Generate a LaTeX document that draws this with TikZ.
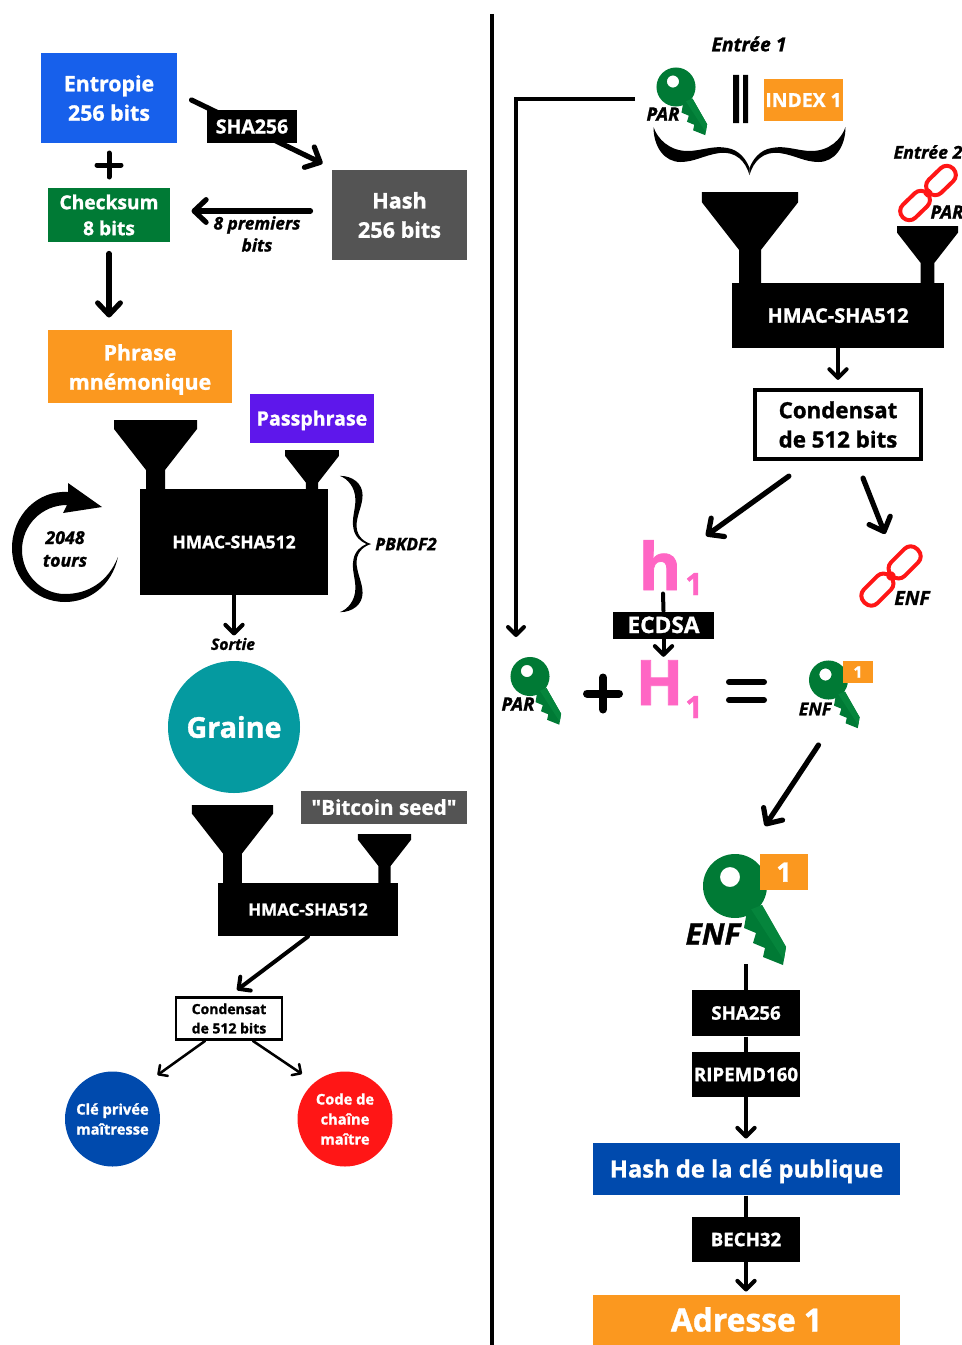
\documentclass[tikz,border=0pt]{standalone}
\usepackage{fontspec}
\setmainfont{Open Sans}[BoldFeatures={FakeBold=1.2},BoldItalicFeatures={FakeBold=1.2}]
\newfontfamily\rawfont{Open Sans}[BoldFeatures={FakeBold=1.2}]
\usetikzlibrary{arrows.meta}

\definecolor{entropyblue}{HTML}{1760EB}
\definecolor{keygreen}{HTML}{007A35}
\definecolor{keylight}{HTML}{05853C}
\definecolor{greybox}{HTML}{545454}
\definecolor{orangebox}{HTML}{FB981F}
\definecolor{purplebox}{HTML}{5E17EB}
\definecolor{seedteal}{HTML}{059AA0}
\definecolor{deepblue}{HTML}{004AAD}
\definecolor{chainred}{HTML}{FF1616}
\definecolor{hashpink}{HTML}{FF66C4}

\newcommand{\fsz}[2]{\fontsize{#1}{#2}\selectfont}

\tikzset{every picture/.style={line width=0.75pt}}
\tikzset{
  boxed/.style args={#1 by #2}{minimum width=#1*0.75pt,minimum height=#2*0.75pt,inner sep=0pt},
  whitebox/.style={text=white,font=\bfseries,align=center},
  oneline/.style={text height=#1pt,text depth=0pt},
  note/.style={font=\bfseries\itshape,align=center,inner sep=0pt},
  bigarrow/.style={line width=3.9pt,line cap=round,-{Straight Barb[round,length=9pt,width=17pt]}},
  midarrow/.style={line width=3pt,line cap=round,-{Straight Barb[round,length=6.5pt,width=13pt]}},
  thinarrow/.style={line width=1.9pt,line cap=round,-{Straight Barb[round,length=5pt,width=10pt]}},
  pics/funnel/.style={code={
    \fill[yscale=-1] (-41.5,0) -- (41.5,0) -- (41.5,9) -- (9.5,50) -- (9.5,100) -- (-9.5,100) -- (-9.5,50) -- (-41.5,9) -- cycle;
  }},
  pics/bitkey/.style={code={
    \begin{scope}[yscale=-1]
    \fill[keygreen,even odd rule] (0,0) circle (32) (-5,-9) circle (10);
    \fill[keygreen] (27,19) -- (51,61) -- (48,79) -- (28,71) -- (30,62) -- (18,57) -- (21,47) -- (9,42) -- (12,25) -- cycle;
    \begin{scope}
      \clip (27,19) -- (51,61) -- (48,79) -- (28,71) -- (30,62) -- (18,57) -- (21,47) -- (9,42) -- (12,25) -- cycle;
      \fill[keylight] (14,20) -- (50,76) -- (70,60) -- (35,10) -- cycle;
    \end{scope}
    \end{scope}
  }},
  pics/chainlink/.style={code={
    \draw[chainred,line width=3pt,rounded corners=6.5pt] (-35,-9) rectangle (-1,9);
    \draw[chainred,line width=3pt,rounded corners=6.5pt] (1,-9) rectangle (35,9);
    \draw[chainred,line width=3pt] (-4,0) -- (4,0);
  }},
  pics/curly/.style={code={
    \foreach \s in {1,-1}{
      \fill[xscale=\s] (0,0) .. controls (-4,-14) and (-14,-24) .. (-30,-22) .. controls (-45,-20) and (-55,-13) .. (-69,-13) .. controls (-85,-13) and (-96,-28) .. (-96,-48) .. controls (-92,-36) and (-80,-24) .. (-62,-24) .. controls (-48,-24) and (-36,-30) .. (-22,-27) .. controls (-10,-25) and (-3,-15) .. (0,-7) -- cycle;
    }
  }},
}

\begin{document}
\begin{tikzpicture}[x=0.75pt,y=0.75pt,yscale=-1,xscale=1]
\useasboundingbox (0,0) rectangle (962,1345);

%Divider
\draw [line width=3pt] (491.5,14) -- (491.5,1345);

%Left column: mnemonic
\node (entropie) [boxed=136 by 90,whitebox,fill=entropyblue,font=\bfseries\fsz{16}{22}] at (109,98) {Entropie\\256 bits};
\node (checksum) [boxed=122 by 54,whitebox,fill=keygreen,font=\bfseries\fsz{14.4}{19.5}] at (109,215) {Checksum\\8 bits};
\node (hash) [boxed=135 by 90,whitebox,fill=greybox,font=\bfseries\fsz{16.2}{22}] at (399.5,215) {Hash\\256 bits};
\node (phrase) [boxed=184 by 73,whitebox,fill=orangebox,font=\bfseries\fsz{16}{22}] at (140,366.5) {\rule{0pt}{16.7pt}Phrase\\mnémonique};
\node (passphrase) [boxed=124 by 49,whitebox,oneline=10.5,fill=purplebox,font=\bfseries\fsz{14.7}{18}] at (312,418.5) {Passphrase};
\coordinate (plusone) at (109,165);
\draw [line width=3.75pt,line cap=round] ([shift={(-12,0)}]plusone) -- ([shift={(12,0)}]plusone) ([shift={(0,-12)}]plusone) -- ([shift={(0,12)}]plusone);
\draw [bigarrow] ([shift={(14,2)}]entropie.east) -- ([shift={(-9,-6)}]hash.north west);
\node (shabox) [boxed=90 by 33,whitebox,oneline=10.5,fill=black,font=\bfseries\fsz{14.6}{18}] at (252,126.5) {SHA256};
\draw [bigarrow] ([shift={(-21,-4)}]hash.west) -- ([shift={(21,-4)}]checksum.east);
\node (premiers) [note,font=\bfseries\itshape\fsz{13}{16.5}] at (257,234) {8 premiers\\bits};
\draw [bigarrow] ([shift={(0,11)}]checksum.south) -- ([shift={(0,-12)}]phrase.north -| checksum.south);

%Left column: PBKDF2
\pic at (155.5,420) {funnel};
\pic[scale=0.65] at (312,450) {funnel};
\node (hmacone) [boxed=188 by 106,whitebox,oneline=9.4,fill=black,font=\bfseries\fsz{13.1}{16}] at (234,542) {HMAC-SHA512};
\fill (118,557) .. controls (112,585) and (90,602) .. (65,602) .. controls (35,602) and (12,578) .. (12,548) .. controls (12,515) and (38,490) .. (68,492) -- (68,483) -- (102,507) -- (63,513) -- (67,505) .. controls (42,505) and (22,525) .. (22,550) .. controls (22,575) and (42,594) .. (65,594) .. controls (88,594) and (108,582) .. (118,557) -- cycle;
\node (tours) [note,font=\bfseries\itshape\fsz{13.3}{17}] at (65,549) {2048\\tours};
\pic[rotate=-90,xscale=0.71,yscale=0.65] at (371,544) {curly};
\node (pbkdf) [note,font=\bfseries\itshape\fsz{12.9}{14}] at (406,544) {PBKDF2};
\node (sortie) [note,font=\bfseries\itshape\fsz{11.8}{14}] at (233,644) {Sortie};
\draw [midarrow] (hmacone.south) -- ([shift={(0,-2)}]sortie.north -| hmacone.south);
\node (graine) [circle,minimum size=132*0.75pt,inner sep=0pt,whitebox,fill=seedteal,font=\bfseries\fsz{21.5}{26}] at (234,727) {Graine};

%Left column: master key
\pic[scale=0.976] at (232.5,805) {funnel};
\pic[scale=0.64] at (384.5,834) {funnel};
\node (seed) [boxed=166 by 33,whitebox,oneline=11,fill=greybox,font=\rawfont\bfseries\fsz{15.5}{18}] at (384,807.5) {"Bitcoin seed"};
\node (hmactwo) [boxed=180 by 53,whitebox,oneline=9.2,fill=black,font=\bfseries\fsz{12.7}{16}] at (308,909.5) {HMAC-SHA512};
\node (condsmall) [boxed=106 by 42,draw=black,line width=2.2pt,align=center,font=\bfseries\fsz{10.5}{14.5}] at (229,1018.5) {Condensat\\de 512 bits};
\draw [midarrow] (hmactwo.south) -- ([shift={(8,-6)}]condsmall.north);
\node (cle) [circle,minimum size=95*0.75pt,inner sep=0pt,whitebox,fill=deepblue,font=\bfseries\fsz{11}{15}] at (112.5,1119) {Clé privée\\maîtresse};
\node (code) [circle,minimum size=95*0.75pt,inner sep=0pt,whitebox,fill=chainred,font=\bfseries\fsz{11}{15}] at (345,1119) {Code de\\chaîne\\maître};
\draw [thinarrow] ([shift={(-24,0)}]condsmall.south) -- ([shift={(11,-10)}]cle.north east);
\draw [thinarrow] ([shift={(24,0)}]condsmall.south) -- ([shift={(-43,3)}]code.north);

%Right column: child chain code
\node (entreeone) [note,font=\bfseries\itshape\fsz{14.5}{16}] at (749,44) {Entrée 1};
\coordinate (parkeyone) at (676,87);
\pic[scale=0.61] at (parkeyone) {bitkey};
\node (parone) [note,font=\bfseries\itshape\fsz{14}{16}] at (663,114) {PAR};
\fill (733,75) rectangle (739,123) (743,75) rectangle (748,123);
\node (index) [boxed=79 by 42,whitebox,oneline=10.5,fill=orangebox,font=\bfseries\fsz{14.5}{18}] at (803.5,100) {INDEX 1};
\pic[rotate=180] at (749.5,175) {curly};
\pic[scale=1.157] at (750,192) {funnel};
\node (entreetwo) [note,font=\bfseries\itshape\fsz{13.3}{16}] at (928,152) {Entrée 2};
\pic[rotate=44] at (928,193) {chainlink};
\node (partwo) [note,font=\bfseries\itshape\fsz{14}{16}] at (947,212) {PAR};
\pic[scale=0.735] at (927.5,226) {funnel};
\node (hmacthree) [boxed=212 by 65,whitebox,oneline=10.8,fill=black,font=\bfseries\fsz{15}{18}] at (838,315.5) {HMAC-SHA512};
\node (condbig) [boxed=166 by 69,draw=black,line width=3.2pt,align=center,font=\bfseries\fsz{16.7}{22}] at (838,424.5) {Condensat\\de 512 bits};
\draw [midarrow] (hmacthree.south) -- ([shift={(0,-8)}]condbig.north -| hmacthree.south);

%Right column: child public key
\node (hlow) [anchor=base,inner sep=0pt,text=hashpink,font=\bfseries\fsz{49}{50}\addfontfeature{FakeBold=5}] at (660,590) {h};
\node (hlowsub) [anchor=base,inner sep=0pt,text=hashpink,font=\bfseries\fsz{23}{24}\addfontfeature{FakeBold=7}] at (694,595) {1};
\node (ecdsa) [boxed=101 by 27,whitebox,oneline=12,fill=black,font=\bfseries\fsz{17}{18}] at (663.5,625) {ECDSA};
\node (hup) [anchor=base,inner sep=0pt,text=hashpink,font=\bfseries\fsz{47}{50}\addfontfeature{FakeBold=5}] at (659.5,705) {H};
\node (hupsub) [anchor=base,inner sep=0pt,text=hashpink,font=\bfseries\fsz{23}{24}\addfontfeature{FakeBold=7}] at (694,718) {1};
\draw [line width=3pt,line cap=round] ([shift={(3,3)}]hlow.south) -- (ecdsa.north);
\draw [midarrow] (ecdsa.south) -- ([shift={(0,-3)}]hup.north -| ecdsa.south);
\draw [bigarrow] ([shift={(36,15)}]condbig.south west) -- ([shift={(24,-4)}]hlow.north east);
\coordinate (chainend) at (885,534);
\draw [bigarrow] ([shift={(25,17)}]condbig.south) -- (chainend);
\pic[rotate=45,scale=1.07] at (891,576) {chainlink};
\node (enfchain) [note,font=\bfseries\itshape\fsz{14.5}{16}] at (912,598) {ENF};
\coordinate (parkeytwo) at (530,676.5);
\pic[scale=0.61] at (parkeytwo) {bitkey};
\node (parthree) [note,font=\bfseries\itshape\fsz{14}{16}] at (518,704) {PAR};
\coordinate (parin) at (635,99);
\coordinate (parout) at (516,637);
\draw [line width=3pt,-{Straight Barb[round,length=6pt,width=12pt]}] (parin) -| (parout);
\coordinate (plustwo) at (603,693.5);
\draw [line width=6pt,line cap=round] ([shift={(-16,0)}]plustwo) -- ([shift={(16,0)}]plustwo) ([shift={(0,-16)}]plustwo) -- ([shift={(0,16)}]plustwo);
\draw [line width=4.5pt,line cap=round] (729,682) -- (764,682) (729,700) -- (764,700);
\coordinate (enfkey) at (828.5,680);
\pic[scale=0.61] at (enfkey) {bitkey};
\node (enfbadge) [boxed=30 by 22,whitebox,oneline=8.6,fill=orangebox,font=\bfseries\fsz{12}{14}] at (858,672) {1};
\node (enfone) [note,font=\bfseries\itshape\fsz{13.3}{16}] at (815,709) {ENF};

%Right column: address
\coordinate (bigkey) at (735,886);
\draw [bigarrow] ([shift={(-10,65)}]enfkey) -- ([shift={(30,-60)}]bigkey);
\pic at (bigkey) {bitkey};
\node (bigbadge) [boxed=48 by 36,whitebox,oneline=14.4,fill=orangebox,font=\bfseries\fsz{20}{24}] at (784,872) {1};
\node (enfbig) [note,font=\bfseries\itshape\fsz{22.5}{24}] at (713,934) {ENF};
\node (shatwo) [boxed=108 by 46,whitebox,oneline=10,fill=black,font=\bfseries\fsz{14}{18}] at (746,1013) {SHA256};
\node (ripemd) [boxed=108 by 45,whitebox,oneline=10,fill=black,font=\bfseries\fsz{14}{18}] at (746,1074.5) {RIPEMD160};
\node (hashpub) [boxed=307 by 52,whitebox,oneline=12.7,fill=deepblue,font=\bfseries\fsz{17.8}{22}] at (746.5,1169) {Hash de la clé publique};
\node (bech) [boxed=108 by 45,whitebox,oneline=10,fill=black,font=\bfseries\fsz{14}{18}] at (746,1239.5) {BECH32};
\node (adresse) [boxed=307 by 50,whitebox,oneline=17,fill=orangebox,font=\bfseries\fsz{23.8}{28}] at (746.5,1320) {Adresse 1};
\draw [line width=3pt] ([shift={(11,78)}]bigkey) -- (shatwo.north);
\draw [line width=3pt] (shatwo.south) -- (ripemd.north);
\draw [midarrow] (ripemd.south) -- ([shift={(0,-4)}]hashpub.north -| ripemd.south);
\draw [line width=3pt] (hashpub.south -| bech.north) -- (bech.north);
\draw [midarrow] (bech.south) -- ([shift={(0,-3)}]adresse.north -| bech.south);

\end{tikzpicture}
\end{document}
